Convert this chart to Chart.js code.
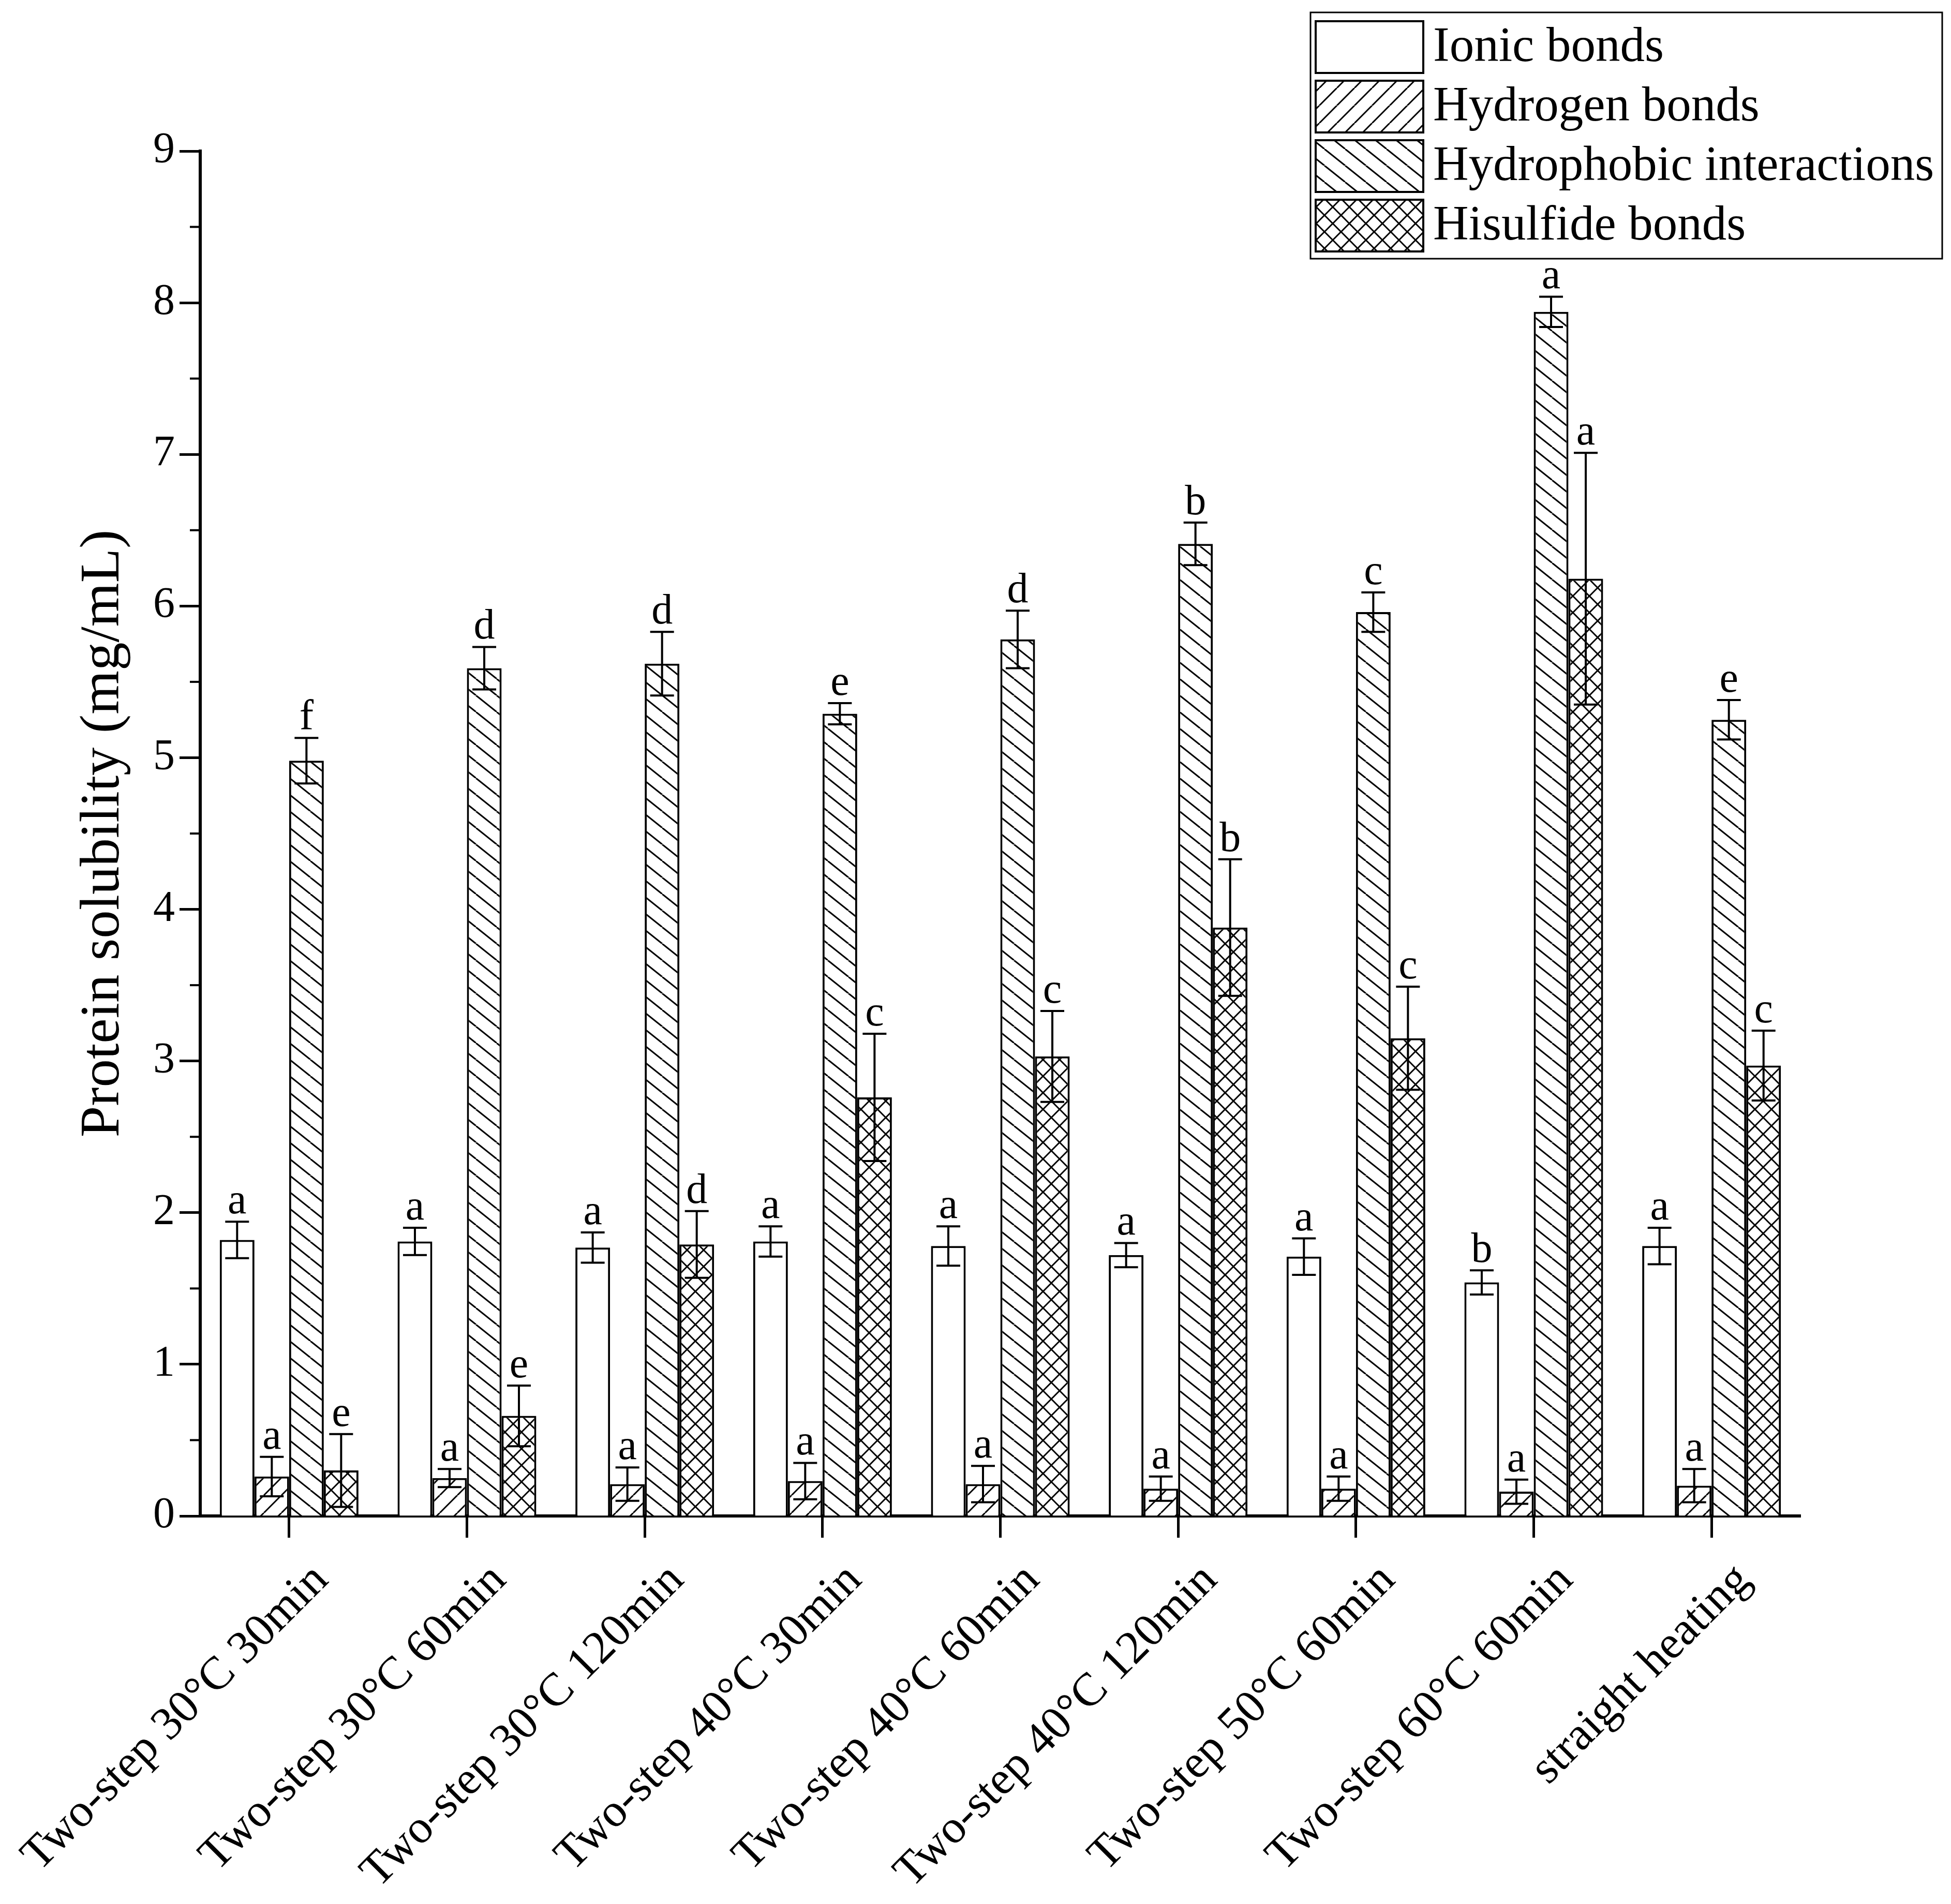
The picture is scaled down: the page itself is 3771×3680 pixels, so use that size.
<!DOCTYPE html>
<html>
<head>
<meta charset="utf-8">
<script src="https://cdn.jsdelivr.net/npm/chart.js@4.4.1/dist/chart.umd.min.js"></script>
<style>
  html, body { margin: 0; padding: 0; background: #fff; }
  canvas { display: block; }
</style>
</head>
<body>
<canvas id="solubilityChart" width="3771" height="3680"></canvas>
<script>
const categories = [
    'Two-step 30°C 30min', 'Two-step 30°C 60min', 'Two-step 30°C 120min',
    'Two-step 40°C 30min', 'Two-step 40°C 60min', 'Two-step 40°C 120min',
    'Two-step 50°C 60min', 'Two-step 60°C 60min', 'straight heating'
];
const seriesNames = ['Ionic bonds', 'Hydrogen bonds', 'Hydrophobic interactions', 'Hisulfide bonds'];

const ionicValues = [1.82, 1.81, 1.77, 1.81, 1.78, 1.72, 1.71, 1.54, 1.78];
const hydrogenValues = [0.26, 0.25, 0.21, 0.23, 0.21, 0.18, 0.18, 0.16, 0.20];
const hydrophobicValues = [4.98, 5.59, 5.62, 5.29, 5.78, 6.41, 5.96, 7.94, 5.25];
const disulfideValues = [0.30, 0.66, 1.79, 2.76, 3.03, 3.88, 3.15, 6.18, 2.97];

const ionicErrors = [0.12, 0.09, 0.10, 0.10, 0.13, 0.08, 0.12, 0.08, 0.12];
const hydrogenErrors = [0.13, 0.06, 0.11, 0.12, 0.12, 0.08, 0.08, 0.08, 0.11];
const hydrophobicErrors = [0.15, 0.14, 0.21, 0.07, 0.19, 0.14, 0.13, 0.10, 0.13];
const disulfideErrors = [0.24, 0.20, 0.22, 0.42, 0.30, 0.45, 0.34, 0.83, 0.23];

const ionicLetters = ['a', 'a', 'a', 'a', 'a', 'a', 'a', 'b', 'a'];
const hydrogenLetters = ['a', 'a', 'a', 'a', 'a', 'a', 'a', 'a', 'a'];
const hydrophobicLetters = ['f', 'd', 'd', 'e', 'd', 'b', 'c', 'a', 'e'];
const disulfideLetters = ['e', 'e', 'd', 'c', 'c', 'b', 'c', 'a', 'c'];

const yTickValues = [0, 1, 2, 3, 4, 5, 6, 7, 8, 9];

const FONT = "'Liberation Serif', 'Times New Roman', serif";
const canvas = document.getElementById('solubilityChart');
const ctx = canvas.getContext('2d');

// hatch fills
function makePattern(w, h, draw) {
    const c = document.createElement('canvas');
    c.width = w; c.height = h;
    const g = c.getContext('2d');
    g.fillStyle = '#fff';
    g.fillRect(0, 0, w, h);
    g.strokeStyle = '#000';
    g.lineWidth = 3;
    draw(g, w, h);
    return ctx.createPattern(c, 'repeat');
}
function back(g, w, h) {      // "\" lines
    [-w, 0, w].forEach(o => {
        g.beginPath(); g.moveTo(o, 0); g.lineTo(o + w, h); g.stroke();
    });
}
function fwd(g, w, h) {       // "/" lines
    [-w, 0, w].forEach(o => {
        g.beginPath(); g.moveTo(o, h); g.lineTo(o + w, 0); g.stroke();
    });
}

const fills = [
    '#ffffff',
    makePattern(34, 34, fwd),
    makePattern(40, 32, back),
    makePattern(32, 32, (g, w, h) => { back(g, w, h); fwd(g, w, h); })
];

const errorSets = [ionicErrors, hydrogenErrors, hydrophobicErrors, disulfideErrors];
const letterSets = [ionicLetters, hydrogenLetters, hydrophobicLetters, disulfideLetters];

const errorBarPlugin = {
    id: 'errorBars',
    afterDatasetsDraw(chart) {
        const c = chart.ctx;
        const y = chart.scales.y;
        c.save();
        c.strokeStyle = '#000';
        c.lineWidth = 4;
        c.fillStyle = '#000';
        c.font = '82px ' + FONT;
        c.textAlign = 'center';
        c.textBaseline = 'alphabetic';
        chart.data.datasets.forEach((ds, di) => {
            const meta = chart.getDatasetMeta(di);
            meta.data.forEach((bar, i) => {
                const v = ds.data[i];
                const e = errorSets[di][i];
                const top = y.getPixelForValue(v + e);
                const bot = y.getPixelForValue(v - e);
                const half = 23;
                c.beginPath();
                c.moveTo(bar.x, top); c.lineTo(bar.x, bot);
                c.moveTo(bar.x - half, top); c.lineTo(bar.x + half, top);
                c.moveTo(bar.x - half, bot); c.lineTo(bar.x + half, bot);
                c.stroke();
                c.fillText(letterSets[di][i], bar.x, top - 16);
            });
        });
        c.restore();
    }
};

const extrasPlugin = {
    id: 'extras',
    afterDraw(chart) {
        const c = chart.ctx;
        const y = chart.scales.y;
        const axisX = chart.chartArea.left;
        c.save();
        // minor ticks on y
        c.strokeStyle = '#000';
        c.lineWidth = 4;
        for (let i = 0; i < yTickValues.length - 1; i++) {
            const py = y.getPixelForValue(yTickValues[i] + 0.5);
            c.beginPath(); c.moveTo(axisX - 20, py); c.lineTo(axisX, py); c.stroke();
        }
        // legend
        const lx = 2533, ly = 24, lw = 1221, lh = 476;
        c.lineWidth = 3;
        c.strokeRect(lx, ly, lw, lh);
        c.font = '95px ' + FONT;
        c.textAlign = 'left';
        c.textBaseline = 'middle';
        chart.data.datasets.forEach((ds, i) => {
            const sy = 41 + i * 115;
            c.fillStyle = ds.backgroundColor;
            c.fillRect(2543, sy, 208, 100);
            c.lineWidth = 4;
            c.strokeRect(2543, sy, 208, 100);
            c.fillStyle = '#000';
            c.fillText(ds.label, 2770, sy + 52);
        });
        c.restore();
    }
};

const valueSets = [ionicValues, hydrogenValues, hydrophobicValues, disulfideValues];

new Chart(ctx, {
    type: 'bar',
    data: {
        labels: categories,
        datasets: seriesNames.map((name, i) => ({
            label: name,
            data: valueSets[i],
            backgroundColor: fills[i],
            borderColor: '#000',
            borderWidth: 4,
            borderSkipped: 'bottom',
            categoryPercentage: 0.78,
            barPercentage: 1.0
        }))
    },
    options: {
        responsive: false,
        devicePixelRatio: 1,
        animation: false,
        layout: { padding: { left: 0, right: 291, top: 292, bottom: 0 } },
        plugins: {
            legend: { display: false },
            tooltip: { enabled: false }
        },
        scales: {
            x: {
                offset: true,
                grid: {
                    offset: false,
                    drawOnChartArea: false,
                    drawTicks: true,
                    tickLength: 42,
                    tickWidth: 5,
                    tickColor: '#000'
                },
                border: { display: true, color: '#000', width: 6 },
                ticks: {
                    color: '#000',
                    font: { family: FONT, size: 90 },
                    maxRotation: 45,
                    minRotation: 45,
                    padding: 30,
                    labelOffset: 62,
                    autoSkip: false
                },
                afterFit(scale) {
                    scale.height = 750;
                    scale.paddingLeft = 0;
                    scale.paddingRight = 0;
                }
            },
            y: {
                min: 0,
                max: 9,
                ticks: {
                    stepSize: 1,
                    color: '#000',
                    font: { family: FONT, size: 84 },
                    padding: 9
                },
                grid: {
                    drawOnChartArea: false,
                    drawTicks: true,
                    tickLength: 40,
                    tickWidth: 5,
                    tickColor: '#000'
                },
                border: { display: true, color: '#000', width: 6 },
                title: {
                    display: true,
                    text: 'Protein solubility (mg/mL)',
                    color: '#000',
                    font: { family: FONT, size: 109 },
                    padding: { top: 135, bottom: 0 }
                },
                afterFit(scale) {
                    scale.width = 387;
                }
            }
        }
    },
    plugins: [errorBarPlugin, extrasPlugin]
});
</script>
</body>
</html>
